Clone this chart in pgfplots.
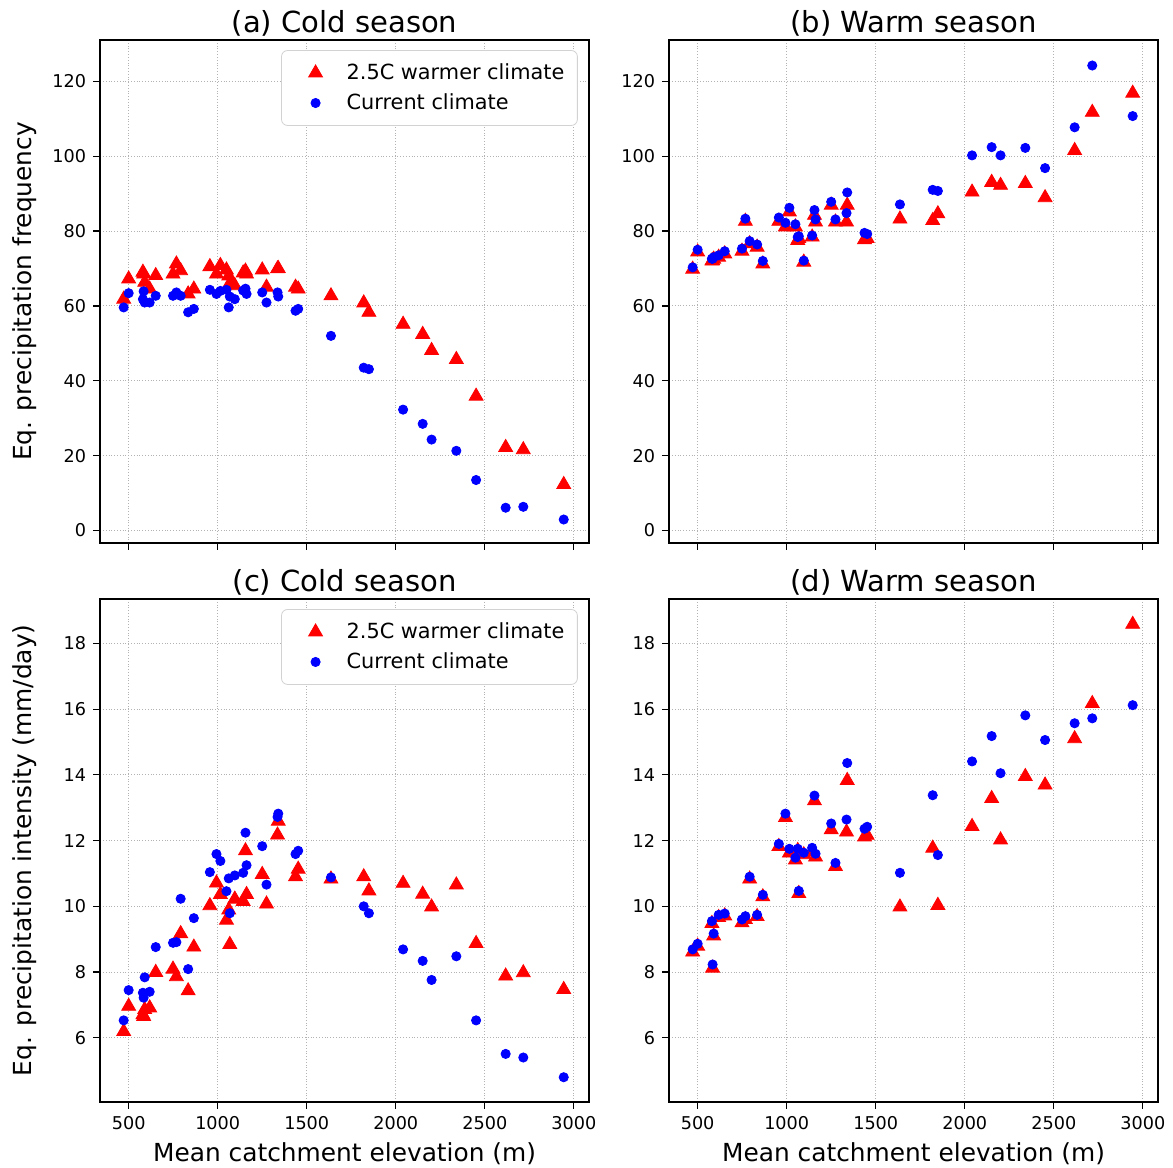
\documentclass[border=0pt]{standalone}
\usepackage{fontspec}
\setmainfont{DejaVu Sans}
\usepackage{pgfplots}
\usepackage{pgfplotstable}
\pgfplotsset{compat=1.18}
\usepgfplotslibrary{groupplots}
\usetikzlibrary{calc}

% x: mean catchment elevation; a/b: frequency (cold/warm), c/d: intensity (cold/warm)
% r = 2.5C warmer climate, b = current climate
\pgfplotstableread{
x    ar    ab    br    bb     cr    cb    dr    db
472  61.8  59.6  69.8  70.3   6.19  6.53  8.61  8.69
500  67.2  63.4  74.4  75.0   6.96  7.45  8.79  8.86
584  68.5  63.9  72.1  72.6   6.65  7.22  8.12  8.23
590  66.3  60.9  72.5  73.0   6.86  7.84  9.10  9.17
580  69.0  61.8  72.0  72.6   6.70  7.37  9.48  9.55
618  64.5  60.9  73.0  73.5   6.91  7.40  9.66  9.74
652  68.1  62.7  73.9  74.6   7.99  8.76  9.71  9.78
749  68.5  62.7  74.6  75.3   8.09  8.89  9.50  9.60
768  71.2  63.6  82.6  83.3   7.86  8.91  9.60  9.70
792  69.4  62.7  76.6  77.3   9.17  10.23 10.83 10.90
834  63.2  58.3  75.7  76.4   7.43  8.09  9.69  9.74
866  64.5  59.2  71.2  72.0   8.76  9.64  10.29 10.35
956  70.5  64.3  82.6  83.6   10.02 11.04 11.82 11.90
993  68.5  63.2  81.1  82.2   10.71 11.59 12.70 12.82
1015 70.8  64.0  85.1  86.2   10.36 11.38 11.62 11.75
1049 69.6  64.3  81.1  81.8   9.58  10.46 11.41 11.48
1062 68.0  59.6  77.5  78.4   9.89  10.85 11.70 11.75
1068 66.0  62.5  78.0  78.6   8.84  9.79  10.39 10.47
1096 65.4  61.8  71.7  72.1   10.22 10.94 11.57 11.63
1143 68.8  64.1  78.4  78.8   10.15 11.02 11.65 11.78
1156 69.3  64.6  84.2  85.6   11.69 12.24 13.21 13.37
1162 68.5  63.2  82.4  83.1   10.36 11.25 11.50 11.60
1250 69.6  63.6  86.9  87.8   10.97 11.83 12.33 12.52
1274 65.0  60.9  82.4  83.1   10.07 10.66 11.21 11.32
1336 69.9  63.6  82.4  84.8   12.17 12.72 12.26 12.64
1340 70.0  62.5  86.9  90.3   12.59 12.82 13.83 14.36
1437 65.0  58.7  77.7  79.5   10.90 11.59 12.11 12.36
1452 64.5  59.2  78.0  79.2   11.13 11.69 12.16 12.42
1636 62.7  52.0  83.2  87.1   10.83 10.88 9.98  11.02
1820 60.8  43.5  82.8  91.0   10.90 10.00 11.77 13.38
1849 58.3  43.1  84.6  90.7   10.47 9.79  10.03 11.56
2041 55.1  32.3  90.4  100.2  10.70 8.69  12.43 14.41
2151 52.4  28.5  93.0  102.4  10.37 8.34  13.28 15.18
2201 48.1  24.3  92.2  100.2  9.98  7.76  12.02 14.05
2340 45.7  21.3  92.7  102.2  10.65 8.48  13.95 15.81
2451 35.9  13.5  88.9  96.8   8.87  6.53  13.69 15.06
2617 22.2  6.1   101.5 107.7  7.88  5.51  15.10 15.57
2716 21.6  6.35  111.7 124.2  7.98  5.40  16.17 15.72
2943 12.3  2.95  116.8 110.7  7.47  4.80  18.58 16.12
}\catchments

\pgfplotsset{
  warm/.style={only marks, mark=triangle*, mark size=4pt, draw=red, fill=red},
  curr/.style={only marks, mark=*, mark size=2.3pt, draw=blue, fill=blue},
}

\begin{document}
\begin{tikzpicture}
\begin{groupplot}[
  group style={group size=2 by 2, horizontal sep=40pt, vertical sep=28pt,
    x descriptions at=edge bottom},
  width=244pt, height=251pt, scale only axis,
  xmin=340, xmax=3085,
  xtick={500,1000,...,3000},
  axis line style={line width=0.7pt},
  tick align=outside, tick pos=left,
  major tick length=3.5pt,
  every tick/.style={black, line width=0.6pt},
  grid=major,
  grid style={densely dotted, gray!60, line width=0.5pt},
  /pgf/number format/assume math mode=true,
  /pgf/number format/set thousands separator={},
  tick label style={font=\fontsize{8.8}{10}\selectfont},
  label style={font=\fontsize{12.4}{14}\selectfont},
  title style={font=\fontsize{14.5}{17}\selectfont, inner sep=0pt, yshift=-4.2pt},
  xlabel style={at={(axis description cs:0.5,-0.104)}, anchor=center},
  ylabel style={at={(axis description cs:-0.155,0.5)}, anchor=center},
  legend image code/.code={%
    \path[draw=none] (-12.5pt,0pt) (13.5pt,0pt);
    \draw[#1] plot[only marks] coordinates {(0pt,0pt)};},
  legend style={font=\fontsize{10.4}{12}\selectfont, at={(0.977,0.98)}, anchor=north east,
    draw=gray!35, rounded corners=3pt, fill=white, inner sep=4.5pt, row sep=1.6pt,
    cells={anchor=west}},
]
\nextgroupplot[title={(a) Cold season}, ylabel={Eq. precipitation frequency},
  ymin=-3.3, ymax=131, ytick={0,20,...,120}]
\addplot[warm] table[x=x, y=ar] {\catchments};
\addlegendentry{2.5C warmer climate}
\addplot[curr] table[x=x, y=ab] {\catchments};
\addlegendentry{Current climate}

\nextgroupplot[title={(b) Warm season},
  ymin=-3.3, ymax=131, ytick={0,20,...,120}]
\addplot[warm] table[x=x, y=br] {\catchments};
\addplot[curr] table[x=x, y=bb] {\catchments};

\nextgroupplot[title={(c) Cold season}, ylabel={Eq. precipitation intensity (mm/day)},
  xlabel={Mean catchment elevation (m)},
  ymin=4.05, ymax=19.35, ytick={6,8,...,18}]
\addplot[warm] table[x=x, y=cr] {\catchments};
\addlegendentry{2.5C warmer climate}
\addplot[curr] table[x=x, y=cb] {\catchments};
\addlegendentry{Current climate}

\nextgroupplot[title={(d) Warm season}, xlabel={Mean catchment elevation (m)},
  ymin=4.05, ymax=19.35, ytick={6,8,...,18}]
\addplot[warm] table[x=x, y=dr] {\catchments};
\addplot[curr] table[x=x, y=db] {\catchments};
\end{groupplot}
\pgfresetboundingbox
\path ($(group c1r1.north west)+(-50pt,20pt)$) rectangle ($(group c2r2.south east)+(7.5pt,-33pt)$);
\end{tikzpicture}
\end{document}
